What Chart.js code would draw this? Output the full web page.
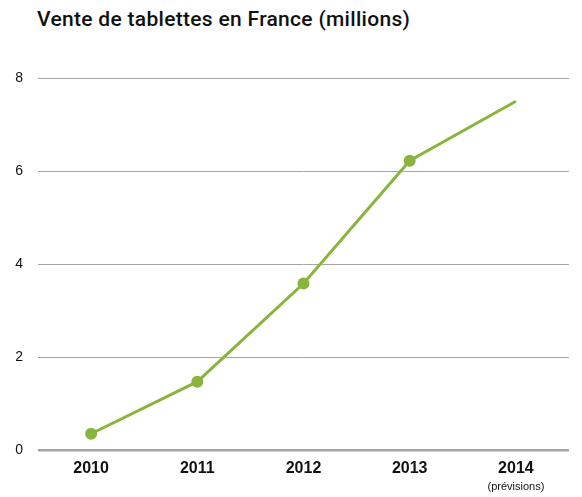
<!DOCTYPE html>
<html>
<head>
<meta charset="utf-8">
<script src="https://cdn.jsdelivr.net/npm/chart.js@4"></script>
<style>
  html, body { margin: 0; padding: 0; background: #fff; }
  #wrap { position: relative; width: 582px; height: 497px; }
  #title {
    position: absolute; left: 37px; top: 7px;
    font-family: Roboto, "Liberation Sans", Arial, sans-serif;
    font-weight: 500; font-size: 21px; letter-spacing: 0.3px; color: #111;
  }
  canvas { position: absolute; left: 0; top: 0; }
</style>
</head>
<body>
<div id="wrap">
  <div id="title">Vente de tablettes en France (millions)</div>
  <canvas id="salesChart" width="582" height="497"></canvas>
</div>
<script>
const years = ["2010", "2011", "2012", "2013", "2014"];
const notes = ["", "", "", "", "(prévisions)"];
const sales = [0.35, 1.47, 3.58, 6.22, 7.5];
const pointSizes = [6, 6, 6, 6, 0];
const yTicks = [0, 2, 4, 6, 8];

const green = "#8ab53c";
const font = "'Liberation Sans', Arial, sans-serif";

// small note under the 2014 label
const notesPlugin = {
    id: "notes",
    afterDraw(chart) {
        const c = chart.ctx;
        const x = chart.scales.x;
        c.save();
        c.font = "11px " + font;
        c.fillStyle = "#111";
        c.textAlign = "center";
        c.textBaseline = "middle";
        notes.forEach((n, i) => {
            if (n) c.fillText(n, x.getPixelForValue(i), 487);
        });
        c.restore();
    }
};

const ctx = document.getElementById("salesChart").getContext("2d");
new Chart(ctx, {
    type: "line",
    data: {
        labels: years,
        datasets: [{
            data: sales,
            borderColor: green,
            backgroundColor: green,
            borderWidth: 3,
            pointRadius: pointSizes,
            pointHoverRadius: pointSizes,
            pointBorderWidth: 0,
            tension: 0
        }]
    },
    options: {
        responsive: false,
        animation: false,
        layout: { padding: { top: 78, right: 13, left: 0, bottom: 0 } },
        plugins: {
            legend: { display: false },
            tooltip: { enabled: false }
        },
        scales: {
            x: {
                offset: true,
                grid: { display: false },
                border: { display: false },
                ticks: {
                    color: "#111",
                    padding: 1,
                    font: { family: font, size: 16, weight: "bold" }
                },
                afterFit(scale) { scale.height = 47; }
            },
            y: {
                min: 0,
                max: 8,
                afterBuildTicks(scale) { scale.ticks = yTicks.map(v => ({ value: v })); },
                grid: {
                    color: "#a6a6a6",
                    lineWidth: c => (c.tick && c.tick.value === 0 ? 2.5 : 1),
                    drawTicks: false
                },
                border: { display: false },
                ticks: {
                    color: "#111",
                    padding: 15,
                    font: { family: font, size: 14 }
                },
                afterFit(scale) { scale.width = 38; }
            }
        }
    },
    plugins: [notesPlugin]
});
</script>
</body>
</html>
